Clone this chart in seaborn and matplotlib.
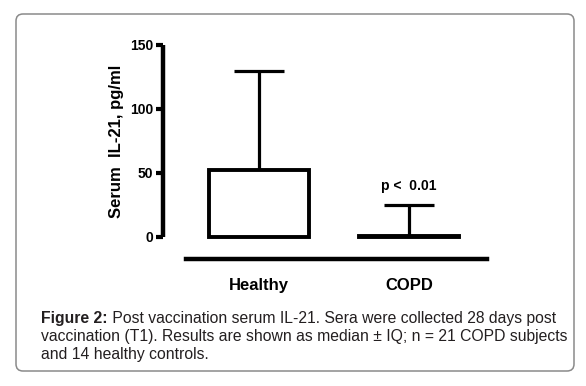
import matplotlib
matplotlib.use("Agg")
import matplotlib.pyplot as plt
from matplotlib.patches import FancyBboxPatch
import seaborn as sns

# data (median bar, upper IQ whisker)
groups = ["Healthy", "COPD"]
medians = [52, 1]
upper = [130, 25]
y_ticks = [0, 50, 100, 150]
p_text = "p <  0.01"

caption_bold = "Figure 2:"
caption_line1 = " Post vaccination serum IL-21. Sera were collected 28 days post"
caption_line2 = "vaccination (T1). Results are shown as median \u00b1 IQ; n = 21 COPD subjects"
caption_line3 = "and 14 healthy controls."

sns.set_style("ticks", {"axes.edgecolor": "black", "text.color": "black",
                        "xtick.color": "black", "ytick.color": "black",
                        "axes.labelcolor": "black"})
plt.rcParams['font.family'] = ['Liberation Sans', 'DejaVu Sans']

fig = plt.figure(figsize=(5.86, 3.86), dpi=100)

# rounded frame around figure + caption
bg = fig.add_axes([0, 0, 1, 1], zorder=0)
bg.set_xlim(0, 586)
bg.set_ylim(386, 0)
bg.axis("off")
bg.add_patch(FancyBboxPatch((16, 14), 558, 357, boxstyle="round,pad=0,rounding_size=7",
                            fc="white", ec="#8a8a8a", lw=1.1))

ax = fig.add_axes([163 / 586, 1 - 237 / 386, 324 / 586, 192 / 386], zorder=1)
ax.patch.set_alpha(0)

sns.barplot(x=groups, y=medians, color="white", edgecolor="black", linewidth=2.8,
            width=0.667, errorbar=None, ax=ax, zorder=3)
for bar in ax.patches:
    bar.set_clip_on(False)

ax.errorbar(x=[0, 1], y=medians,
            yerr=[[0, 0], [u - m for u, m in zip(upper, medians)]],
            fmt="none", ecolor="black", elinewidth=2.3, capsize=18, capthick=2.3,
            zorder=2, clip_on=False)

ax.text(1, 40, p_text, ha="center", va="center", fontsize=10, fontweight="bold")

ax.set_xlim(-0.64, 1.52)
ax.set_ylim(0, 150)
ax.set_yticks(y_ticks)
ax.tick_params(axis="y", length=5, width=3, pad=2, labelsize=10)
ax.tick_params(axis="x", length=0, pad=14, labelsize=12)

sns.despine(ax=ax)
ax.spines["left"].set_linewidth(3.2)
ax.spines["bottom"].set_linewidth(3.2)
ax.spines["bottom"].set_position(("outward", 15.5))
ax.spines["bottom"].set_bounds(-0.49, 1.52)
ax.spines["left"].set_capstyle("butt")

ax.set_ylabel("Serum  IL-21, pg/ml", fontsize=12, fontweight="bold")
ax.yaxis.set_label_coords(-0.12, 0.5)
ax.set_xlabel("")

# caption
cap_color = "#231f20"
cap_size = 11.3
t1 = fig.text(41 / 586, 1 - 318 / 386, caption_bold, fontsize=cap_size, fontweight="bold",
              color=cap_color, va="center", ha="left")
bg.annotate(caption_line1, xy=(1, 0), xycoords=t1, va="bottom", ha="left",
            fontsize=cap_size, color=cap_color)
fig.text(41 / 586, 1 - 336 / 386, caption_line2, fontsize=cap_size, color=cap_color,
         va="center", ha="left")
fig.text(41 / 586, 1 - 354 / 386, caption_line3, fontsize=cap_size, color=cap_color,
         va="center", ha="left")

# make tick labels bold once the ticks exist
fig.canvas.draw()
for lab in ax.get_xticklabels() + ax.get_yticklabels():
    lab.set_fontweight("bold")

fig.savefig("out.png", dpi=100)
